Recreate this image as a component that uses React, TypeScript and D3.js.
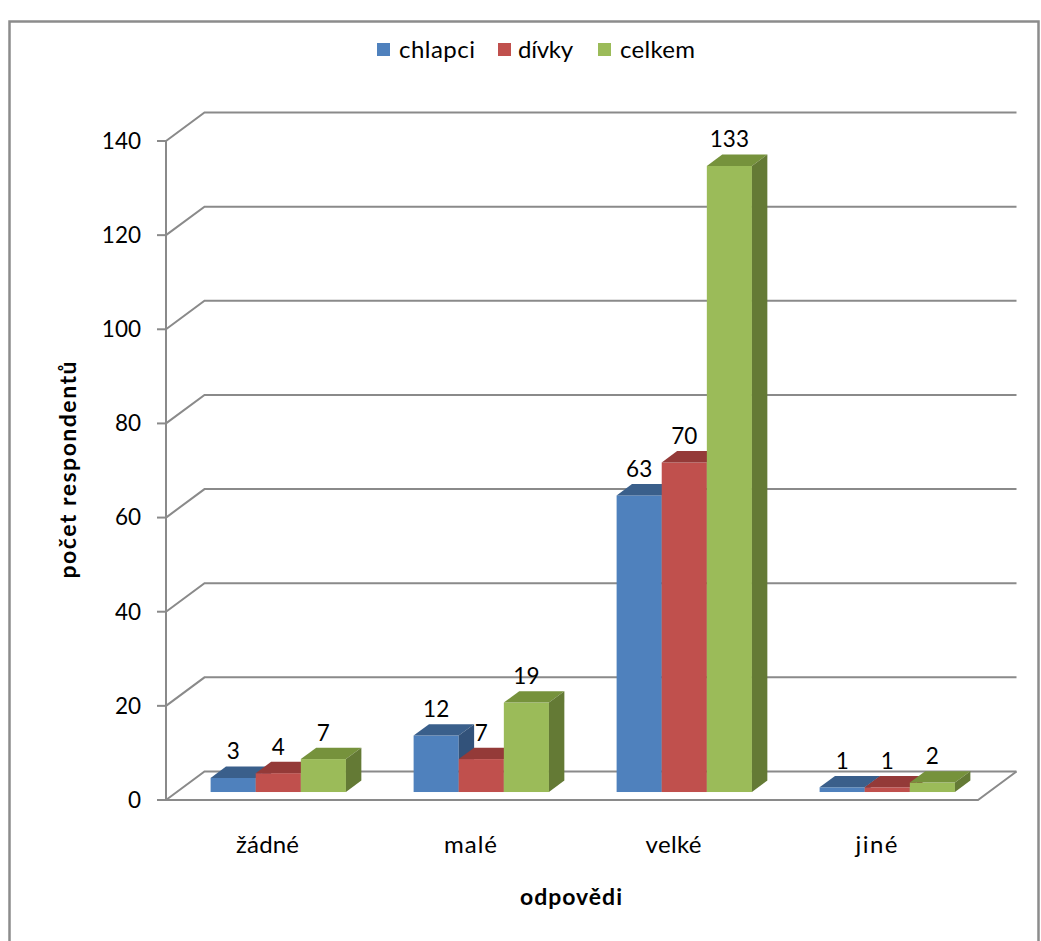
import React from "react";
import * as d3 from "d3";

// Survey answers by group
const categories = ["žádné", "malé", "velké", "jiné"];
const seriesNames = ["chlapci", "dívky", "celkem"];
const chlapci = [3, 12, 63, 1];
const divky = [4, 7, 70, 1];
const celkem = [7, 19, 133, 2];
const yTicks = [0, 20, 40, 60, 80, 100, 120, 140];

const seriesValues = [chlapci, divky, celkem];

// front, top, side shades per series
const palette = [
  { front: "#4F81BD", top: "#3A5F8B", side: "#32527A" },
  { front: "#C0504D", top: "#943A38", side: "#7E302E" },
  { front: "#9BBB59", top: "#76923C", side: "#647A35" },
];

// rendered widths of the wide, Calibri-like labels
const categoryWidths = [63, 53, 56, 42];
const legendWidths = [76, 55, 75];

const W = 1041;
const H = 941;
const FONT = "Lato, 'Open Sans', sans-serif";
const FS_NUM = 22.5;
const FS_WORD = 24;

export default function App() {
  const plotLeft = 166;
  const plotRight = 978;
  const floorY = 800;
  const depthX = 38.5;
  const depthY = 28.5;
  const wallRight = plotRight + depthX;

  const y = d3.scaleLinear().domain([0, 140]).range([floorY, 141]);
  const x = d3.scaleBand<string>().domain(categories).range([plotLeft, plotRight]);

  const barW = x.bandwidth() / 4.5;
  const inner = d3
    .scaleBand<number>()
    .domain([0, 1, 2])
    .range([0, barW * 3]);

  // bars sit in the middle of the floor's depth
  const offX = depthX * 0.28;
  const offY = depthY * 0.28;
  const bdx = depthX * 0.4;
  const bdy = depthY * 0.4;

  const grid = "#8A8A8A";

  const bars: React.ReactNode[] = [];
  const labels: React.ReactNode[] = [];
  categories.forEach((c, ci) => {
    const center = (x(c) as number) + x.bandwidth() / 2 + offX;
    const gx0 = center - 1.5 * barW;
    seriesValues.forEach((vals, si) => {
      const v = vals[ci];
      const x0 = gx0 + (inner(si) as number);
      const x1 = x0 + barW;
      const yb = y(0) - offY;
      const yt = y(v) - offY;
      const col = palette[si];
      bars.push(
        <g key={`${ci}-${si}`}>
          <rect x={x0} y={yt} width={barW} height={yb - yt} fill={col.front} />
          <polygon
            points={`${x0},${yt} ${x1},${yt} ${x1 + bdx},${yt - bdy} ${x0 + bdx},${yt - bdy}`}
            fill={col.top}
          />
          <polygon
            points={`${x1},${yt} ${x1 + bdx},${yt - bdy} ${x1 + bdx},${yb - bdy} ${x1},${yb}`}
            fill={col.side}
          />
        </g>
      );
      labels.push(
        <text
          key={`l-${ci}-${si}`}
          x={(x0 + x1) / 2}
          y={yt - 18.5}
          textAnchor="middle"
          fontSize={FS_NUM}
          fontFamily={FONT}
          fill="#000"
        >
          {v}
        </text>
      );
    });
  });

  const legendSwatchX = [377, 498, 598];
  const legendTextX = [399, 518, 620];

  return (
    <svg
      width={W}
      height={H}
      style={{ position: "absolute", left: 0, top: 0, background: "#fff" }}
    >
      <rect x={0} y={0} width={W} height={H} fill="#fff" />
      {/* chart border */}
      <path d={`M9.5,${H} V21.5 H1038.5 V${H}`} fill="none" stroke="#8C8C8C" strokeWidth={2.5} />

      {/* legend */}
      {seriesNames.map((name, i) => (
        <g key={name}>
          <rect x={legendSwatchX[i]} y={43} width={13} height={13} fill={palette[i].front} />
          <text
            x={legendTextX[i]}
            y={58}
            fontSize={FS_WORD}
            fontFamily={FONT}
            fill="#000"
            textLength={legendWidths[i]}
            lengthAdjust="spacing"
          >
            {name}
          </text>
        </g>
      ))}

      {/* back wall gridlines */}
      {yTicks.map((t) => (
        <path
          key={t}
          d={`M${plotLeft},${y(t)} L${plotLeft + depthX},${y(t) - depthY} H${wallRight}`}
          fill="none"
          stroke={grid}
          strokeWidth={2}
        />
      ))}
      {/* floor */}
      <path
        d={`M${plotLeft - 9},${floorY} H${plotRight} L${wallRight},${floorY - depthY}`}
        fill="none"
        stroke={grid}
        strokeWidth={2}
      />
      {/* vertical axis */}
      <line x1={plotLeft} x2={plotLeft} y1={y(140)} y2={floorY} stroke={grid} strokeWidth={2} />
      {yTicks.map((t) => (
        <g key={`t${t}`}>
          <line x1={plotLeft - 9} x2={plotLeft} y1={y(t)} y2={y(t)} stroke={grid} strokeWidth={2} />
          <text
            x={plotLeft - 25}
            y={y(t)}
            dy="0.35em"
            textAnchor="end"
            fontSize={FS_NUM}
            fontFamily={FONT}
            fill="#000"
          >
            {t}
          </text>
        </g>
      ))}

      {bars}
      {labels}

      {/* category labels */}
      {categories.map((c, i) => (
        <text
          key={c}
          x={(x(c) as number) + x.bandwidth() / 2}
          y={853}
          textAnchor="middle"
          fontSize={FS_WORD}
          fontFamily={FONT}
          fill="#000"
          textLength={categoryWidths[i]}
          lengthAdjust="spacing"
        >
          {c}
        </text>
      ))}

      {/* axis titles */}
      <text
        x={571}
        y={905}
        textAnchor="middle"
        fontSize={23}
        fontWeight="bold"
        fontFamily={FONT}
        fill="#000"
        textLength={102}
        lengthAdjust="spacing"
      >
        odpovědi
      </text>
      <text
        transform="translate(76,470) rotate(-90)"
        textAnchor="middle"
        fontSize={23}
        fontWeight="bold"
        fontFamily={FONT}
        fill="#000"
        textLength={217}
        lengthAdjust="spacing"
      >
        počet respondentů
      </text>
    </svg>
  );
}
